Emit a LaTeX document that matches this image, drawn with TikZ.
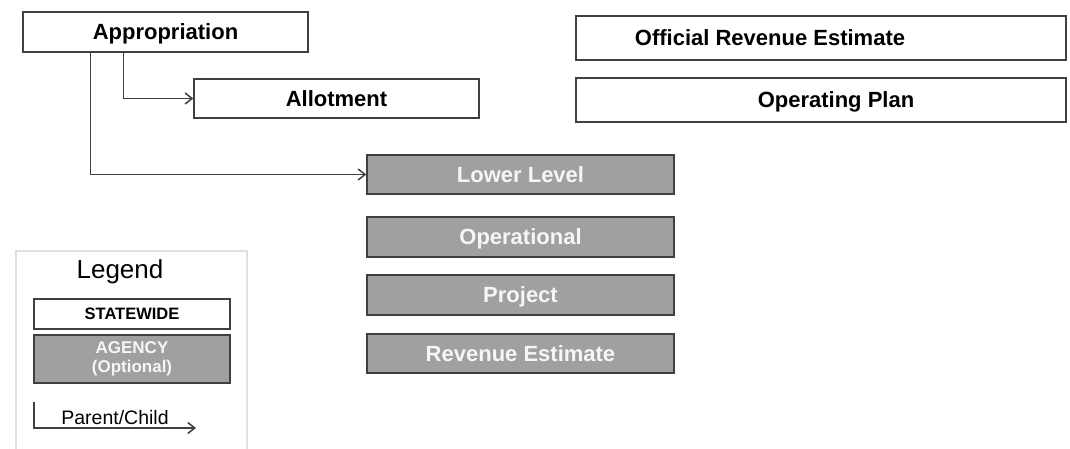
\documentclass[tikz,border=0pt]{standalone}
\usepackage{fontspec}
\setmainfont{Liberation Sans}
\usepackage{tikz}
\usetikzlibrary{arrows.meta,positioning}

\definecolor{boxline}{RGB}{64,64,64}
\definecolor{agencygray}{RGB}{160,160,160}
\definecolor{agencytext}{RGB}{246,246,246}
\definecolor{framegray}{RGB}{225,225,225}

\begin{document}
\begin{tikzpicture}[
    x=1pt, y=-1pt,
    every node/.style={font=\fontsize{22}{26}\selectfont\bfseries},
    boxbase/.style={draw=boxline, line width=1.4pt, minimum height=40pt, inner sep=0pt, fill=white},
    box/.style={boxbase, text depth=0pt},
    agencybox/.style={box, fill=agencygray, text=agencytext, minimum width=307pt},
    arr/.style={-{Straight Barb[length=7pt,width=11pt]}, draw=boxline, line width=1.5pt}
]
\useasboundingbox (0,0) rectangle (1070,448);

\node[box, minimum width=285pt] (appr) at (165.5,32) {Appropriation};
\node[box, minimum width=285pt, minimum height=39pt] (allot) at (336.5,98.5) {Allotment};
\node[box, minimum width=490pt, minimum height=44pt] (ore) at (821,38) {\hspace*{-102pt}Official Revenue Estimate};
\node[box, minimum width=490pt, minimum height=44pt] (opplan) at (821,100) {\hspace*{30pt}Operating Plan};

\node[agencybox, minimum height=39pt] (lower) at (520.5,174.5) {Lower Level};
\node[agencybox] (oper) at (520.5,237) {Operational};
\node[agencybox] (proj) at (520.5,295) {Project};
\node[agencybox, minimum height=39pt] (revest) at (520.5,353.5) {Revenue Estimate};

\draw[arr] ([xshift=101pt]appr.south west) |- (allot.west);
\draw[arr] ([xshift=68pt]appr.south west) |- (lower.west);

% legend
\draw[framegray, line width=1.5pt] (16,251) rectangle (247,470);
\node[font=\fontsize{26}{30}\selectfont] (legtitle) at (120,272) {Legend};
\node[box, minimum width=196pt, minimum height=30pt, font=\fontsize{16.5}{19}\selectfont\bfseries] (statewide) at (132,314) {STATEWIDE};
\node[boxbase, fill=agencygray, text=agencytext, minimum width=196pt, minimum height=48pt, align=center,
      font=\fontsize{17}{19}\selectfont\bfseries] (agency) at (132,359) {AGENCY\\(Optional)};
\coordinate (pctop) at (34,402);
\coordinate (pcend) at (196,428);
\draw[arr] (pctop) |- (pcend);
\node[font=\fontsize{19.5}{22}\selectfont] (pclabel) at (115,418) {Parent/Child};
\end{tikzpicture}
\end{document}
